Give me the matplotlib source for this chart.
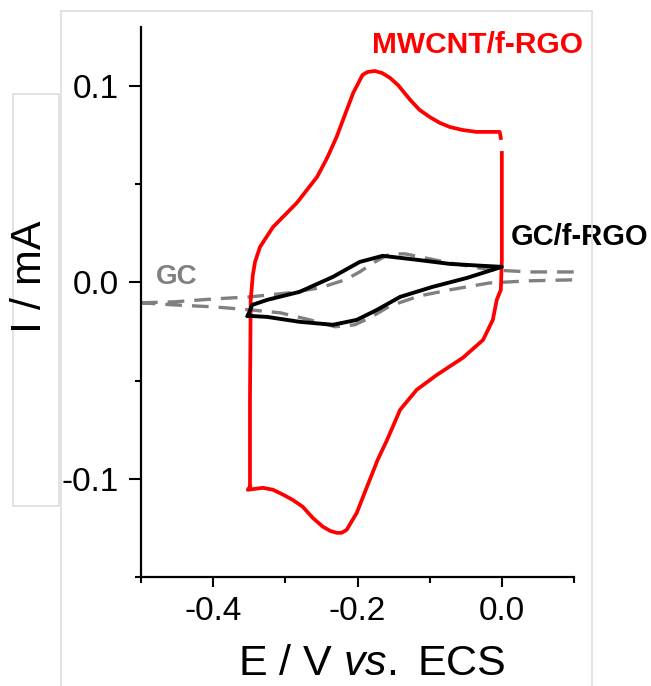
import numpy as np
import matplotlib
matplotlib.use("Agg")
import matplotlib.pyplot as plt
from matplotlib.ticker import FixedLocator, MultipleLocator, FormatStrFormatter
from matplotlib.lines import Line2D
from matplotlib.patches import Rectangle

plt.rcParams['font.family'] = ['Liberation Sans', 'DejaVu Sans']
plt.rcParams['axes.unicode_minus'] = False
plt.rcParams['mathtext.fontset'] = 'custom'
plt.rcParams['mathtext.rm'] = 'Liberation Sans'
plt.rcParams['mathtext.it'] = 'Liberation Sans:italic'

# MWCNT/f-RGO (red), potential in V vs ECS, current in mA (closed CV loop)
E_mwcnt = [-0.349, -0.349, -0.348, -0.345, -0.342, -0.335, -0.317, -0.284, -0.256,
           -0.242, -0.229, -0.206, -0.193, -0.186, -0.176, -0.166, -0.155, -0.144,
           -0.127, -0.114, -0.100, -0.086, -0.072, -0.055, -0.035, -0.003, -0.0014,
           np.nan, 0.0, 0.0, 0.0, -0.0014, -0.007, -0.0125, -0.026, -0.054, -0.090,
           -0.118, -0.141, -0.159, -0.172, -0.183, -0.201, -0.215, -0.222, -0.229,
           -0.238, -0.248, -0.262, -0.276, -0.290, -0.303, -0.317, -0.331, -0.352,
           -0.349]
I_mwcnt = [-0.104, -0.0598, -0.0089, 0.0038, 0.0104, 0.0181, 0.0282, 0.0405, 0.0537,
           0.0634, 0.0740, 0.0964, 0.1056, 0.1071, 0.1076, 0.1066, 0.1041, 0.1005,
           0.0929, 0.0878, 0.0842, 0.0812, 0.0791, 0.0776, 0.0766, 0.0766, 0.0735,
           np.nan, 0.0659, 0.042, 0.0115, -0.0038, -0.0089, -0.0191, -0.0293, -0.0384,
           -0.0471, -0.0547, -0.0649, -0.0802, -0.0903, -0.1005, -0.1173, -0.1260,
           -0.1275, -0.1275, -0.1265, -0.1244, -0.1199, -0.1142, -0.1107, -0.1081,
           -0.1056, -0.1046, -0.1056, -0.104]

# GC/f-RGO (black)
E_gcrgo = [-0.352, -0.346, -0.325, -0.280, -0.234, -0.197, -0.165, -0.118, -0.072,
           -0.026, 0.0, -0.048, -0.096, -0.141, -0.173, -0.201, -0.234, -0.280,
           -0.325, -0.352]
I_gcrgo = [-0.0170, -0.0115, -0.0089, -0.0048, 0.0028, 0.0104, 0.0135, 0.0115, 0.0094,
           0.0084, 0.0079, 0.0023, -0.0023, -0.0074, -0.0140, -0.0191, -0.0216,
           -0.0201, -0.0176, -0.0170]

# bare GC (grey dashed)
E_gc = [-0.5, -0.453, -0.398, -0.349, -0.294, -0.252, -0.217, -0.197, -0.176, -0.155,
        -0.134, -0.114, -0.072, -0.017, 0.039, 0.1, 0.1, 0.039, -0.017, -0.072,
        -0.114, -0.155, -0.183, -0.204, -0.231, -0.266, -0.307, -0.349, -0.398,
        -0.453, -0.5]
I_gc = [-0.0104, -0.0099, -0.0084, -0.0074, -0.0053, -0.0028, 0.0013, 0.0053, 0.0104,
        0.0145, 0.0145, 0.0130, 0.0099, 0.0064, 0.0053, 0.0053, 0.0013, 0.0008,
        -0.0003, -0.0038, -0.0069, -0.0120, -0.0181, -0.0216, -0.0226, -0.0191,
        -0.0155, -0.0140, -0.0125, -0.0115, -0.0104]

W, H = 651, 686
fig = plt.figure(figsize=(W / 100, H / 100), dpi=100)

# light grey frame of the original screenshot
frame = '#dedede'
fig.add_artist(Line2D([60.5 / W, 591.5 / W], [1 - 10.7 / H, 1 - 10.7 / H],
                      transform=fig.transFigure, color=frame, lw=1.2))
fig.add_artist(Line2D([60.7 / W, 60.7 / W], [0, 1 - 10.7 / H],
                      transform=fig.transFigure, color=frame, lw=1.2))
fig.add_artist(Line2D([591.7 / W, 591.7 / W], [0, 1 - 10.7 / H],
                      transform=fig.transFigure, color=frame, lw=1.2))
fig.add_artist(Rectangle((12.5 / W, 1 - 506 / H), (59 - 12.5) / W, (506 - 94) / H,
                         transform=fig.transFigure, fill=False, ec=frame, lw=1.2))

ax = fig.add_axes([141 / W, 1 - 577 / H, (574 - 141) / W, (577 - 27) / H])
ax.patch.set_alpha(0)

ax.plot(E_gc, I_gc, color='#808080', lw=2.4, dashes=(5, 3))
ax.plot(E_mwcnt, I_mwcnt, color='#ff0000', lw=2.7, solid_joinstyle='round')
ax.plot(E_gcrgo, I_gcrgo, color='black', lw=2.8, solid_joinstyle='round')

ax.set_xlim(-0.5, 0.1)
ax.set_ylim(-0.15, 0.13)

for s in ['top', 'right']:
    ax.spines[s].set_visible(False)
for s in ['left', 'bottom']:
    ax.spines[s].set_linewidth(1.6)

ax.xaxis.set_major_locator(FixedLocator([-0.4, -0.2, 0.0]))
ax.xaxis.set_minor_locator(FixedLocator([-0.5, -0.3, -0.1, 0.1]))
ax.yaxis.set_major_locator(MultipleLocator(0.1))
ax.yaxis.set_minor_locator(MultipleLocator(0.05))
ax.xaxis.set_major_formatter(FormatStrFormatter('%.1f'))
ax.yaxis.set_major_formatter(FormatStrFormatter('%.1f'))

ax.tick_params(axis='both', which='both', direction='out', width=1.5, labelsize=24)
ax.tick_params(axis='y', which='major', length=9, pad=7)
ax.tick_params(axis='y', which='minor', length=4)
ax.tick_params(axis='x', which='major', length=7.5, pad=6)
ax.tick_params(axis='x', which='minor', length=4.5)

ax.text(0.112, 0.1168, 'MWCNT/f-RGO', color='#ff0000', fontsize=21.5,
        fontweight='bold', ha='right', va='baseline', clip_on=False)
ax.text(0.0125, 0.0191, 'GC/f-RGO', color='black', fontsize=21,
        fontweight='bold', ha='left', va='baseline', clip_on=False)
ax.text(-0.479, -0.0008, 'GC', color='#808080', fontsize=20,
        fontweight='bold', ha='left', va='baseline')

fig.text(30 / W, 1 - 277 / H, 'I / mA', rotation=90, fontsize=31,
         ha='center', va='center')
fig.text(371.6 / W, 1 - 675 / H, r'E / V $\mathit{vs.}$ ECS', fontsize=31,
         ha='center', va='baseline')

fig.savefig('out.png', dpi=100)
